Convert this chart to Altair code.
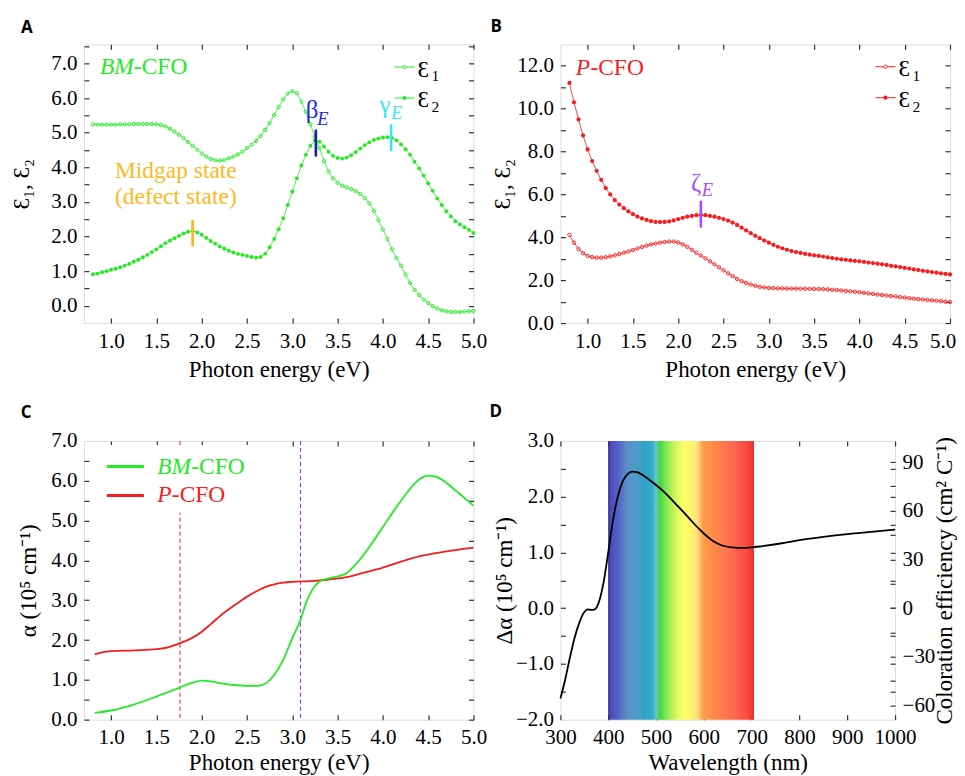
import altair as alt
import pandas as pd

# ---------------- data ----------------
E_GRID = [0.80, 0.85, 0.90, 0.95, 1.00, 1.05, 1.10, 1.15, 1.20, 1.25,
          1.30, 1.35, 1.40, 1.45, 1.50, 1.55, 1.60, 1.65, 1.70, 1.75,
          1.80, 1.85, 1.90, 1.95, 2.00, 2.05, 2.10, 2.15, 2.20, 2.25,
          2.30, 2.35, 2.40, 2.45, 2.50, 2.55, 2.60, 2.65, 2.70, 2.75,
          2.80, 2.85, 2.90, 2.95, 3.00, 3.05, 3.10, 3.15, 3.20, 3.25,
          3.30, 3.35, 3.40, 3.45, 3.50, 3.55, 3.60, 3.65, 3.70, 3.75,
          3.80, 3.85, 3.90, 3.95, 4.00, 4.05, 4.10, 4.15, 4.20, 4.25,
          4.30, 4.35, 4.40, 4.45, 4.50, 4.55, 4.60, 4.65, 4.70, 4.75,
          4.80, 4.85, 4.90, 4.95, 5.00]

A_EPS1 = [5.24, 5.23, 5.23, 5.23, 5.23, 5.23, 5.24, 5.24, 5.24, 5.25,
          5.25, 5.25, 5.25, 5.25, 5.24, 5.22, 5.18, 5.11, 5.03, 4.94,
          4.84, 4.73, 4.62, 4.51, 4.40, 4.31, 4.24, 4.20, 4.19, 4.21,
          4.26, 4.31, 4.37, 4.45, 4.55, 4.65, 4.76, 4.90, 5.08, 5.28,
          5.51, 5.74, 5.96, 6.13, 6.20, 6.14, 5.90, 5.60, 5.24, 4.88,
          4.55, 4.18, 3.88, 3.68, 3.55, 3.47, 3.42, 3.37, 3.31, 3.23,
          3.11, 2.96, 2.74, 2.48, 2.20, 1.93, 1.63, 1.38, 1.16, 0.90,
          0.66, 0.46, 0.31, 0.18, 0.08, -0.01, -0.08, -0.13, -0.16, -0.18,
          -0.18, -0.18, -0.17, -0.16, -0.15]

A_EPS2 = [0.91, 0.93, 0.97, 1.00, 1.04, 1.07, 1.11, 1.16, 1.21, 1.27,
          1.33, 1.40, 1.47, 1.55, 1.63, 1.72, 1.81, 1.88, 1.95, 2.02,
          2.09, 2.14, 2.16, 2.12, 2.05, 1.96, 1.87, 1.79, 1.71, 1.65,
          1.59, 1.54, 1.50, 1.47, 1.44, 1.41, 1.39, 1.41, 1.50, 1.69,
          1.93, 2.21, 2.53, 2.91, 3.30, 3.68, 4.05, 4.36, 4.62, 4.78,
          4.74, 4.60, 4.45, 4.33, 4.27, 4.25, 4.28, 4.35, 4.44, 4.54,
          4.64, 4.72, 4.79, 4.83, 4.86, 4.87, 4.85, 4.78, 4.66, 4.52,
          4.36, 4.16, 3.97, 3.76, 3.54, 3.32, 3.10, 2.91, 2.73, 2.58,
          2.44, 2.35, 2.27, 2.19, 2.10]

B_EPS1 = [4.11, 3.75, 3.45, 3.26, 3.13, 3.08, 3.05, 3.05, 3.07, 3.11,
          3.16, 3.22, 3.28, 3.34, 3.41, 3.48, 3.55, 3.61, 3.67, 3.71,
          3.75, 3.78, 3.80, 3.80, 3.76, 3.67, 3.56, 3.42, 3.28, 3.15,
          3.02, 2.88, 2.74, 2.60, 2.46, 2.32, 2.19, 2.06, 1.95, 1.87,
          1.80, 1.74, 1.69, 1.66, 1.64, 1.63, 1.62, 1.62, 1.61, 1.61,
          1.61, 1.60, 1.60, 1.60, 1.59, 1.59, 1.58, 1.57, 1.55, 1.54,
          1.52, 1.50, 1.48, 1.46, 1.44, 1.41, 1.38, 1.36, 1.33, 1.31,
          1.28, 1.26, 1.24, 1.21, 1.19, 1.16, 1.14, 1.12, 1.10, 1.08,
          1.06, 1.04, 1.02, 1.00, 0.98]

B_EPS2 = [11.20, 10.30, 9.50, 8.75, 8.10, 7.56, 7.10, 6.68, 6.30, 6.00,
          5.74, 5.53, 5.36, 5.21, 5.08, 4.97, 4.88, 4.81, 4.75, 4.72,
          4.71, 4.72, 4.74, 4.79, 4.85, 4.91, 4.96, 5.00, 5.03, 5.04,
          5.03, 5.00, 4.96, 4.91, 4.85, 4.78, 4.69, 4.58, 4.45, 4.32,
          4.19, 4.07, 3.96, 3.85, 3.75, 3.65, 3.56, 3.49, 3.42, 3.36,
          3.31, 3.27, 3.23, 3.19, 3.16, 3.13, 3.10, 3.06, 3.03, 3.00,
          2.97, 2.95, 2.92, 2.90, 2.88, 2.85, 2.82, 2.80, 2.77, 2.74,
          2.71, 2.67, 2.64, 2.61, 2.57, 2.54, 2.50, 2.47, 2.44, 2.41,
          2.38, 2.35, 2.32, 2.29, 2.27]

# peak markers (energy, low, high, colour)
A_MARK_E = [1.90, 3.26, 4.09]
A_MARK_LO = [1.71, 4.31, 4.47]
A_MARK_HI = [2.48, 5.09, 5.24]
A_MARK_C = ["#ffb31a", "#1c1ca8", "#33e6f2"]
B_MARK_E = [2.25]
B_MARK_LO = [4.45]
B_MARK_HI = [5.71]
B_MARK_C = ["#a64dff"]

C_BM_E = [0.82, 1.00, 1.25, 1.50, 1.75, 1.90, 2.00, 2.10, 2.20, 2.35, 2.50, 2.62,
          2.72, 2.80, 2.90, 3.00, 3.09, 3.15, 3.22, 3.30, 3.40, 3.50, 3.60, 3.70,
          3.80, 3.90, 4.00, 4.10, 4.20, 4.30, 4.40, 4.50, 4.60, 4.70, 4.80, 4.90, 5.00]
C_BM_A = [0.17, 0.23, 0.38, 0.58, 0.80, 0.93, 0.98, 0.96, 0.92, 0.87, 0.85, 0.85,
          0.93, 1.12, 1.50, 2.05, 2.50, 2.92, 3.26, 3.47, 3.55, 3.60, 3.68, 3.90,
          4.18, 4.50, 4.84, 5.18, 5.50, 5.80, 6.03, 6.13, 6.09, 5.95, 5.76, 5.57, 5.37]
C_P_E = [0.82, 0.90, 1.00, 1.25, 1.50, 1.65, 1.76, 1.90, 2.00, 2.10, 2.25, 2.40,
         2.50, 2.60, 2.70, 2.80, 2.90, 3.00, 3.20, 3.40, 3.60, 3.80, 4.00, 4.20,
         4.40, 4.60, 4.80, 5.00]
C_P_A = [1.64, 1.69, 1.72, 1.74, 1.77, 1.83, 1.92, 2.06, 2.21, 2.40, 2.69, 2.93,
         3.09, 3.22, 3.33, 3.40, 3.44, 3.46, 3.48, 3.52, 3.58, 3.70, 3.82, 3.97,
         4.10, 4.19, 4.26, 4.32]
C_GUIDE_E = [1.76, 3.09]
C_GUIDE_C = ["#ff2a2a", "#9933ff"]

D_WL = [300, 310, 320, 330, 340, 350, 357, 365, 372, 380, 390, 400, 410, 420, 430,
        440, 450, 460, 470, 480, 500, 520, 540, 560, 580, 600, 620, 640, 660, 680,
        700, 720, 760, 800, 850, 900, 950, 1000]
D_DALPHA = [-1.62, -1.28, -0.88, -0.52, -0.25, -0.07, -0.02, -0.03, -0.02, 0.10, 0.45,
            1.00, 1.58, 2.00, 2.27, 2.40, 2.45, 2.44, 2.40, 2.34, 2.21, 2.06, 1.88,
            1.70, 1.51, 1.34, 1.20, 1.12, 1.09, 1.08, 1.09, 1.11, 1.16, 1.22, 1.28,
            1.33, 1.37, 1.41]
BAND_LO, BAND_HI = 400, 705
BAND_WL = [400, 404, 420, 440, 460, 475, 492, 500, 508, 520, 540, 558, 578, 588,
           597, 620, 660, 690, 705]
BAND_COLORS = ["#1c1a6a", "#4a48c0", "#5560c4", "#5a90c8", "#4c9cc8", "#2fa2c8",
               "#36aac8", "#62c8cc", "#44d444", "#80e650", "#ccf560", "#ffff66",
               "#fff070", "#ffd880", "#ffa048", "#ff8a48", "#ff6a50", "#fa4a40",
               "#e83030"]

# axis tick / label values
E_TICKS = [1.0, 1.5, 2.0, 2.5, 3.0, 3.5, 4.0, 4.5, 5.0]
A_YLAB = [0, 1, 2, 3, 4, 5, 6, 7]
A_YTICK = [0, 0.5, 1, 1.5, 2, 2.5, 3, 3.5, 4, 4.5, 5, 5.5, 6, 6.5, 7, 7.5]
B_YLAB = [0, 2, 4, 6, 8, 10, 12]
B_YTICK = [0, 1, 2, 3, 4, 5, 6, 7, 8, 9, 10, 11, 12]
C_YLAB = [0, 1, 2, 3, 4, 5, 6, 7]
C_YTICK = [0, 0.5, 1, 1.5, 2, 2.5, 3, 3.5, 4, 4.5, 5, 5.5, 6, 6.5]
D_XTICK = [300, 400, 500, 600, 700, 800, 900, 1000]
D_YLAB = [-2, -1, 0, 1, 2, 3]
D_YTICK = [-1.5, -1, -0.5, 0, 0.5, 1, 1.5, 2, 2.5]
D_CELAB = [-60, -30, 0, 30, 60, 90]
D_CETICK = [-60, -45, -30, -15, 0, 15, 30, 45, 60, 75, 90]

# ---------------- styling helpers ----------------
W, H, WD = 390, 279, 335
SERIF = "Liberation Serif"
SANS = "Open Sans"
GREEN = "#24ea24"
RED = "#f51d1d"
ANN = 23.5
ONE = pd.DataFrame({"k": [0]})


def lab_axis(orient, values, fmt, title, title_x=None, title_y=None, angle=None,
             last_shift=None):
    kw = dict(orient=orient, values=values, format=fmt, title=title, ticks=False,
              domain=False, grid=False, labelFont=SERIF, labelFontSize=21,
              labelColor="black", labelPadding=7, labelFlush=False, labelOverlap=False,
              titleFont=SERIF, titleFontSize=23, titleFontWeight="normal",
              titleColor="black")
    if title_x is not None:
        kw["titleX"] = title_x
        kw["titleBaseline"] = "middle"
    if title_y is not None:
        kw["titleY"] = title_y
        kw["titleBaseline"] = "alphabetic"
    if angle is not None:
        kw["titleAngle"] = angle
    if last_shift is not None:
        kw["labelOffset"] = {"condition": {"test": "datum.value >= 4.99", "value": last_shift},
                             "value": 0}
    return alt.Axis(**kw)


def tick_axis(orient, values, offset):
    return alt.Axis(orient=orient, values=values, offset=offset, labels=False,
                    ticks=True, tickSize=5, tickWidth=1.2, tickColor="#333333",
                    domain=False, grid=False, title=None)


def sc(dom):
    return alt.Scale(domain=dom, nice=False, zero=False)


def text(t, x, y, color="black", size=ANN, italic=False, align="left",
         font=SERIF, weight="normal"):
    return alt.Chart(ONE).mark_text(
        text=t, align=align, baseline="alphabetic", font=font, fontSize=size,
        fontStyle="italic" if italic else "normal", fontWeight=weight, color=color
    ).encode(x=alt.value(x), y=alt.value(y))


def leg_line(x1, x2, y, color, width=1.0):
    return alt.Chart(ONE).mark_rule(color=color, strokeWidth=width).encode(
        x=alt.value(x1), x2=alt.value(x2), y=alt.value(y))


def leg_point(x, y, color, filled, size):
    if filled:
        m = alt.Chart(ONE).mark_circle(color=color, size=size, opacity=1)
    else:
        m = alt.Chart(ONE).mark_point(shape="circle", filled=False, color=color,
                                      size=size, strokeWidth=0.9, opacity=1,
                                      fill="white")
    return m.encode(x=alt.value(x), y=alt.value(y))


def carriers(df, xf, xdom, xt, yf, ydom, yt, w):
    base = alt.Chart(df).mark_point(opacity=0, size=1)
    c1 = base.encode(
        x=alt.X(xf, type="quantitative", scale=sc(xdom), axis=tick_axis("top", xt, -H)),
        y=alt.Y(yf, type="quantitative", scale=sc(ydom), axis=tick_axis("right", yt, -w)))
    c2 = base.encode(
        x=alt.X(xf, type="quantitative", scale=sc(xdom), axis=tick_axis("bottom", xt, -H)),
        y=alt.Y(yf, type="quantitative", scale=sc(ydom), axis=tick_axis("left", yt, -w)))
    return [c1, c2]


def eps_legend(x0, y0, color, s_open, s_fill):
    layers = []
    for i, filled in enumerate([False, True]):
        yy = y0 + 31 * i
        layers.append(leg_line(x0, x0 + 20, yy, color))
        layers.append(leg_point(x0 + 10, yy, color, filled, s_fill if filled else s_open))
        layers.append(text("\u0190", x0 + 23, yy + 9.5, size=23))
        layers.append(text(str(i + 1), x0 + 37, yy + 14, size=15.5))
    return layers


def eps_panel(df, xdom, ydom, ylab, ytick, color, s_open, s_fill, title_x, last_shift=None):
    xe = lambda f: alt.X(f, type="quantitative", scale=sc(xdom),
                         axis=lab_axis("bottom", E_TICKS, ".1f", "Photon energy (eV)", title_y=53,
                                       last_shift=last_shift))
    ye = lambda f: alt.Y(f, type="quantitative", scale=sc(ydom),
                         axis=lab_axis("left", ylab, ".1f", "\u0190\u2081, \u0190\u2082", title_x=title_x))
    base = alt.Chart(df)
    return [
        base.mark_line(color=color, strokeWidth=0.8).encode(x=xe("E"), y=ye("e1")),
        base.mark_point(shape="circle", filled=False, color=color, size=s_open,
                        strokeWidth=0.9, opacity=1).encode(x=xe("E"), y=ye("e1")),
        base.mark_line(color=color, strokeWidth=0.8).encode(x=xe("E"), y=ye("e2")),
        base.mark_circle(color=color, size=s_fill, opacity=1).encode(x=xe("E"), y=ye("e2")),
    ], xe, ye


# ---------------- panel A ----------------
dfA = pd.DataFrame({"E": E_GRID, "e1": A_EPS1, "e2": A_EPS2})
A_XDOM, A_YDOM = [0.7, 5.0], [-0.5, 7.55]
layersA, xeA, yeA = eps_panel(dfA, A_XDOM, A_YDOM, A_YLAB, A_YTICK, GREEN, 11, 15, -62)
markA = pd.DataFrame({"E": A_MARK_E, "lo": A_MARK_LO, "hi": A_MARK_HI, "c": A_MARK_C})
layersA.append(alt.Chart(markA).mark_rule(strokeWidth=2.6).encode(
    x=xeA("E"), y=yeA("lo"), y2="hi", color=alt.Color("c:N", scale=None)))
layersA += [
    text("BM", 16, 30, GREEN, italic=True),
    text("-CFO", 50, 30, GREEN),
    text("Midgap state", 92, 133.7, "#ffb820", align="center"),
    text("(defect state)", 92, 160.3, "#ffb820", align="center"),
    text("\u03b2", 222, 73.7, "#2626e0", size=25),
    text("E", 233.5, 81, "#2626e0", size=18.5, italic=True),
    text("\u03b3", 296, 68.7, "#3ae4f0", size=25),
    text("E", 307.5, 74.3, "#3ae4f0", size=18.5, italic=True),
    text("A", -63, -11.5, font=SANS, weight="bold", size=17),
]
layersA += eps_legend(311, 22.7, GREEN, 11, 15)
carA = carriers(pd.DataFrame({"E": [2.0], "v": [1.0]}), "E", A_XDOM, E_TICKS, "v", A_YDOM, A_YTICK, W)
panelA = alt.layer(alt.layer(*layersA), *carA).resolve_scale(
    x="independent", y="independent").properties(width=W, height=H)

# ---------------- panel B ----------------
dfB = pd.DataFrame({"E": E_GRID, "e1": B_EPS1, "e2": B_EPS2})
B_XDOM, B_YDOM = [0.7, 5.0], [0, 13]
layersB, xeB, yeB = eps_panel(dfB, B_XDOM, B_YDOM, B_YLAB, B_YTICK, RED, 12, 18, -58.3,
                              last_shift=-7.5)
markB = pd.DataFrame({"E": B_MARK_E, "lo": B_MARK_LO, "hi": B_MARK_HI, "c": B_MARK_C})
layersB.append(alt.Chart(markB).mark_rule(strokeWidth=2.6).encode(
    x=xeB("E"), y=yeB("lo"), y2="hi", color=alt.Color("c:N", scale=None)))
layersB += [
    text("P", 15.4, 30.7, RED, italic=True),
    text("-CFO", 30, 30.7, RED),
    text("\u03b6", 130.7, 146.5, "#a64dff", size=25),
    text("E", 141.4, 151.7, "#a64dff", size=18.5, italic=True),
    text("B", -70, -12, font=SANS, weight="bold", size=17),
]
layersB += eps_legend(315.4, 22.4, RED, 12, 18)
carB = carriers(pd.DataFrame({"E": [2.0], "v": [1.0]}), "E", B_XDOM, E_TICKS, "v", B_YDOM, B_YTICK, W)
panelB = alt.layer(alt.layer(*layersB), *carB).resolve_scale(
    x="independent", y="independent").properties(width=W, height=H)

# ---------------- panel C ----------------
C_XDOM, C_YDOM = [0.7, 5.0], [0, 7]
xeC = lambda f: alt.X(f, type="quantitative", scale=sc(C_XDOM),
                      axis=lab_axis("bottom", E_TICKS, ".1f", "Photon energy (eV)", title_y=50))
yeC = lambda f: alt.Y(f, type="quantitative", scale=sc(C_YDOM),
                      axis=lab_axis("left", C_YLAB, ".1f", "\u03b1 (10\u2075 cm\u207b\u00b9)", title_x=-55.5))
dfCbm = pd.DataFrame({"E": C_BM_E, "a": C_BM_A})
dfCp = pd.DataFrame({"E": C_P_E, "a": C_P_A})
dfCg = pd.DataFrame({"E": C_GUIDE_E, "c": C_GUIDE_C})
layersC = [
    alt.Chart(dfCg).mark_rule(strokeDash=[4, 3], strokeWidth=1.1).encode(
        x=xeC("E"), color=alt.Color("c:N", scale=None)),
    alt.Chart(ONE).mark_rect(color="white").encode(
        x=alt.value(12), x2=alt.value(190), y=alt.value(4), y2=alt.value(72)),
    alt.Chart(dfCp).mark_line(color=RED, strokeWidth=1.8, interpolate="monotone").encode(
        x=xeC("E"), y=yeC("a")),
    alt.Chart(dfCbm).mark_line(color=GREEN, strokeWidth=1.8, interpolate="monotone").encode(
        x=xeC("E"), y=yeC("a")),
    leg_line(23, 60, 25.7, GREEN, 3),
    leg_line(23, 60, 54.7, RED, 3),
    text("BM", 73.3, 33, GREEN, italic=True),
    text("-CFO", 107.5, 33, GREEN),
    text("P", 73.3, 61.3, RED, italic=True),
    text("-CFO", 88, 61.3, RED),
    text("C", -63.3, -23.3, font=SANS, weight="bold", size=17),
]
carC = carriers(pd.DataFrame({"E": [2.0], "v": [1.0]}), "E", C_XDOM, E_TICKS, "v", C_YDOM, C_YTICK, W)
panelC = alt.layer(alt.layer(*layersC), *carC).resolve_scale(
    x="independent", y="independent").properties(width=W, height=H)

# ---------------- panel D ----------------
D_XDOM, D_YDOM, D_CEDOM = [300, 1000], [-2, 3], [-68.7, 103.0]
xeD = lambda f: alt.X(f, type="quantitative", scale=sc(D_XDOM),
                      axis=lab_axis("bottom", D_XTICK, "d", "Wavelength (nm)", title_y=50))
yeD = lambda f: alt.Y(f, type="quantitative", scale=sc(D_YDOM),
                      axis=lab_axis("left", D_YLAB, ".1f", "\u0394\u03b1 (10\u2075 cm\u207b\u00b9)", title_x=-55.7))
span = BAND_HI - BAND_LO
gradient = {"gradient": "linear", "x1": 0, "x2": 1, "y1": 0, "y2": 0,
            "stops": [{"offset": (w - BAND_LO) / span, "color": c}
                      for w, c in zip(BAND_WL, BAND_COLORS)]}
dfD = pd.DataFrame({"wl": D_WL, "da": D_DALPHA})
dfBand = pd.DataFrame({"lo": [BAND_LO], "hi": [BAND_HI]})
layersD = [
    alt.Chart(dfBand).mark_rect(fill=gradient).encode(x=xeD("lo"), x2="hi"),
    alt.Chart(dfD).mark_line(color="black", strokeWidth=1.8, interpolate="monotone").encode(
        x=xeD("wl"), y=yeD("da")),
    text("D", -71, -24, font=SANS, weight="bold", size=17),
]
carDdf = pd.DataFrame({"wl": [500], "v": [0.0], "ce": [0.0]})
carD = carriers(carDdf, "wl", D_XDOM, D_XTICK, "v", D_YDOM, D_YTICK, WD)
ce_lab = alt.Chart(carDdf).mark_point(opacity=0, size=1).encode(
    x=alt.X("wl", type="quantitative", scale=sc(D_XDOM), axis=None),
    y=alt.Y("ce", type="quantitative", scale=sc(D_CEDOM),
            axis=lab_axis("right", D_CELAB, "d", "Coloration efficiency (cm\u00b2 C\u207b\u00b9)",
                          title_x=49, angle=270)))
ce_tick = alt.Chart(carDdf).mark_point(opacity=0, size=1).encode(
    x=alt.X("wl", type="quantitative", scale=sc(D_XDOM), axis=None),
    y=alt.Y("ce", type="quantitative", scale=sc(D_CEDOM), axis=tick_axis("left", D_CETICK, -WD)))
panelD = alt.layer(alt.layer(*layersD), *carD, ce_lab, ce_tick).resolve_scale(
    x="independent", y="independent").properties(width=WD, height=H)

chart = alt.concat(panelA, panelB, panelC, panelD, columns=2,
                   spacing={"row": 118, "column": 87}, bounds="flush").properties(
    padding={"left": 2, "top": 9, "right": 0, "bottom": 0}).configure_view(
    stroke="#333333", strokeWidth=1.3).configure(background="white")

chart.save("out.html", embed_options={"renderer": "svg", "actions": False})
